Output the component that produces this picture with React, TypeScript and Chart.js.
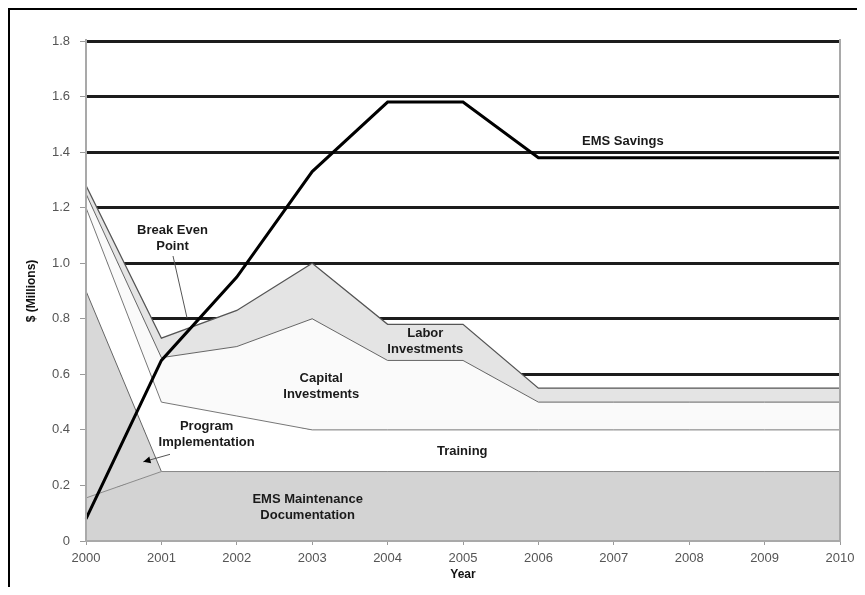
import React, { useEffect, useRef } from 'react';
import { Chart, registerables } from 'chart.js';

Chart.register(...registerables);

// ---- data ----
const years = ['2000', '2001', '2002', '2003', '2004', '2005', '2006', '2007', '2008', '2009', '2010'];

// stacked cost components ($ Millions)
const emsMaintenance = [0.155, 0.25, 0.25, 0.25, 0.25, 0.25, 0.25, 0.25, 0.25, 0.25, 0.25];
const programImplementation = [0.745, 0, 0, 0, 0, 0, 0, 0, 0, 0, 0];
const training = [0.3, 0.25, 0.2, 0.15, 0.15, 0.15, 0.15, 0.15, 0.15, 0.15, 0.15];
const capitalInvestments = [0.05, 0.16, 0.25, 0.4, 0.25, 0.25, 0.1, 0.1, 0.1, 0.1, 0.1];
const laborInvestments = [0.03, 0.07, 0.13, 0.2, 0.13, 0.13, 0.05, 0.05, 0.05, 0.05, 0.05];

// cumulative savings line
const emsSavings = [0.08, 0.65, 0.95, 1.33, 1.58, 1.58, 1.38, 1.38, 1.38, 1.38, 1.38];

const yMin = 0;
const yMax = 1.8;
const yStep = 0.2;

// in-chart labels: x as fractional year index, y in $ Millions (block centre)
const labelTexts = [
  ['EMS Savings'],
  ['Labor', 'Investments'],
  ['Capital', 'Investments'],
  ['Training'],
  ['EMS Maintenance', 'Documentation'],
  ['Program', 'Implementation'],
  ['Break Even', 'Point'],
];
const labelX = [7.12, 4.5, 3.12, 4.99, 2.94, 1.6, 1.147];
const labelY = [1.44, 0.72, 0.558, 0.324, 0.121, 0.382, 1.09];

// leader lines [x1, y1, x2, y2]
const breakEvenLeader = [1.154, 1.026, 1.34, 0.803];
const programLeader = [1.114, 0.312, 0.76, 0.285];

const FONT = '"Liberation Sans", Arial, sans-serif';

const overlayPlugin = {
  id: 'overlay',
  afterDatasetsDraw(chart: any) {
    const { ctx, chartArea: a, scales } = chart;
    const xs = scales.x;
    const ys = scales.y;
    ctx.save();

    // plot frame (left, bottom, right)
    ctx.strokeStyle = '#a9a9a9';
    ctx.lineWidth = 2;
    ctx.beginPath();
    ctx.moveTo(a.left, a.top - 2);
    ctx.lineTo(a.left, a.bottom);
    ctx.lineTo(a.right, a.bottom);
    ctx.lineTo(a.right, a.top - 2);
    ctx.stroke();

    // leader lines
    ctx.strokeStyle = '#555';
    ctx.lineWidth = 1;
    const line = (l: number[]) => {
      ctx.beginPath();
      ctx.moveTo(xs.getPixelForValue(l[0]), ys.getPixelForValue(l[1]));
      ctx.lineTo(xs.getPixelForValue(l[2]), ys.getPixelForValue(l[3]));
      ctx.stroke();
    };
    line(breakEvenLeader);
    line(programLeader);

    // arrowhead for program leader
    const x1 = xs.getPixelForValue(programLeader[0]);
    const y1 = ys.getPixelForValue(programLeader[1]);
    const x2 = xs.getPixelForValue(programLeader[2]);
    const y2 = ys.getPixelForValue(programLeader[3]);
    const ang = Math.atan2(y2 - y1, x2 - x1);
    const len = 8;
    ctx.fillStyle = '#000';
    ctx.beginPath();
    ctx.moveTo(x2, y2);
    ctx.lineTo(x2 - len * Math.cos(ang - 0.45), y2 - len * Math.sin(ang - 0.45));
    ctx.lineTo(x2 - len * Math.cos(ang + 0.45), y2 - len * Math.sin(ang + 0.45));
    ctx.closePath();
    ctx.fill();

    // labels
    ctx.font = 'bold 13px ' + FONT;
    ctx.fillStyle = '#1a1a1a';
    ctx.textAlign = 'center';
    ctx.textBaseline = 'middle';
    const lh = 16;
    labelTexts.forEach((lines, i) => {
      const cx = xs.getPixelForValue(labelX[i]);
      const cy = ys.getPixelForValue(labelY[i]);
      const top = cy - ((lines.length - 1) * lh) / 2;
      lines.forEach((t, j) => ctx.fillText(t, cx, top + j * lh));
    });
    ctx.restore();
  },
};

const lineColor = '#666';

export default function App() {
  const ref = useRef<HTMLCanvasElement>(null);

  useEffect(() => {
    if (!ref.current) return;
    const common = {
      pointRadius: 0,
      pointHoverRadius: 0,
      tension: 0,
      borderWidth: 1,
      borderColor: lineColor,
      stack: 'costs',
    };
    const chart = new Chart(ref.current, {
      type: 'line',
      data: {
        labels: years,
        datasets: [
          { ...common, label: 'EMS Maintenance Documentation', data: emsMaintenance, fill: 'origin', backgroundColor: '#d3d3d3', borderColor: '#8a8a8a' },
          { ...common, label: 'Program Implementation', data: programImplementation, fill: '-1', backgroundColor: '#d8d8d8' },
          { ...common, label: 'Training', data: training, fill: '-1', backgroundColor: '#ffffff', borderColor: '#777' },
          { ...common, label: 'Capital Investments', data: capitalInvestments, fill: '-1', backgroundColor: '#fafafa' },
          { ...common, label: 'Labor Investments', data: laborInvestments, fill: '-1', backgroundColor: '#e4e4e4', borderColor: '#555', borderWidth: 1.3 },
          {
            label: 'EMS Savings',
            data: emsSavings,
            stack: 'savings',
            fill: false,
            borderColor: '#000',
            borderWidth: 3,
            pointRadius: 0,
            tension: 0,
            order: -1,
          },
        ],
      },
      options: {
        animation: false,
        responsive: true,
        maintainAspectRatio: false,
        layout: { padding: { top: 31, right: 25, left: 0, bottom: 0 } },
        plugins: {
          legend: { display: false },
          tooltip: { enabled: false },
          title: { display: false },
        },
        scales: {
          x: {
            type: 'category',
            offset: false,
            afterFit: (s: any) => {
              s.height = 54;
            },
            grid: {
              display: true,
              drawOnChartArea: false,
              drawTicks: true,
              tickLength: 4,
              tickColor: '#9a9a9a',
              tickWidth: 1,
              color: '#9a9a9a',
            },
            border: { display: false },
            ticks: {
              color: '#555',
              font: { family: FONT, size: 13 },
              padding: 6,
              maxRotation: 0,
              autoSkip: false,
            },
            title: {
              display: true,
              text: 'Year',
              color: '#111',
              font: { family: FONT, size: 12, weight: 'bold' },
              padding: { top: 0, bottom: 13 },
            },
          },
          y: {
            stacked: true,
            min: yMin,
            max: yMax,
            afterFit: (s: any) => {
              s.width = 76;
            },
            grid: {
              color: (c: any) => (c.tick && c.tick.value === 0 ? 'rgba(0,0,0,0)' : '#1c1c1c'),
              lineWidth: 3,
              drawTicks: true,
              tickLength: 6,
              tickColor: '#9a9a9a',
              tickWidth: 1,
            },
            border: { display: false },
            ticks: {
              stepSize: yStep,
              color: '#555',
              font: { family: FONT, size: 13 },
              padding: 10,
              callback: (v: any) => (Number(v) === 0 ? '0' : Number(v).toFixed(1)),
            },
            title: {
              display: true,
              text: '$ (Millions)',
              color: '#111',
              font: { family: FONT, size: 12, weight: 'bold' },
              padding: { top: 14, bottom: 0 },
            },
          },
        },
      },
      plugins: [overlayPlugin],
    } as any);
    return () => chart.destroy();
  }, []);

  return (
    <div
      style={{
        height: 587,
        marginRight: -8,
        marginBottom: -8,
        borderTop: '2px solid #000',
        borderLeft: '2px solid #000',
        boxSizing: 'border-box',
        position: 'relative',
        background: '#fff',
      }}
    >
      <canvas ref={ref} />
    </div>
  );
}
